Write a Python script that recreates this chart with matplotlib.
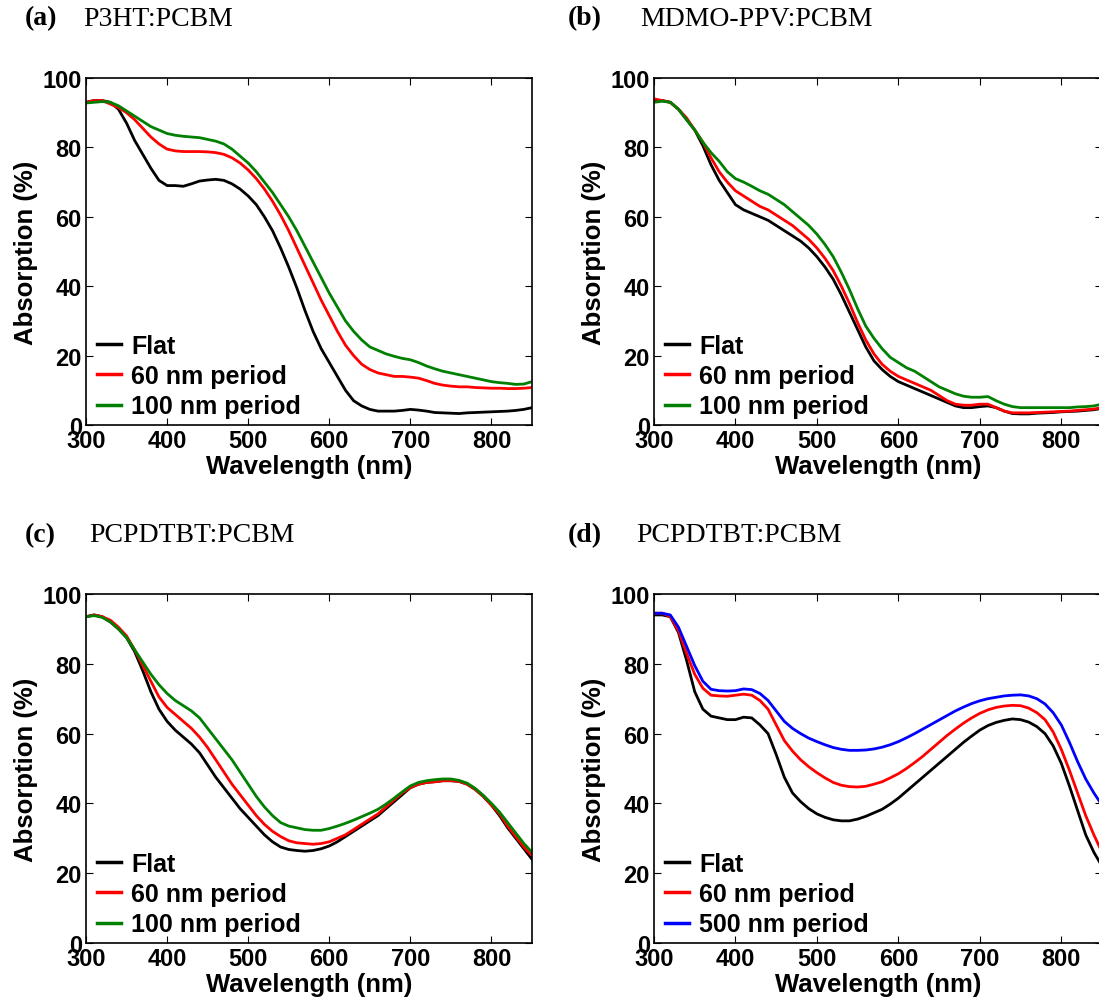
import numpy as np
import matplotlib
matplotlib.use("Agg")
import matplotlib.pyplot as plt

plt.rcParams['font.family'] = ['Liberation Sans', 'DejaVu Sans']

# wavelength grid (nm) shared by all spectra
wavelength = np.arange(300, 851, 10)

# (a) P3HT:PCBM
a_flat = [93, 93.5, 93.5, 93, 91, 87, 82, 78, 74, 70.5, 69, 69, 68.8, 69.5, 70.3, 70.6, 70.8, 70.5, 69.5, 68,
          66, 63.5, 60, 56, 51, 45.5, 39.5, 33, 27, 22, 18, 14, 10, 7, 5.5, 4.5, 4, 4, 4, 4.2,
          4.5, 4.3, 4, 3.6, 3.5, 3.4, 3.3, 3.5, 3.6, 3.7, 3.8, 3.9, 4, 4.2, 4.5, 5]
a_60 = [93, 93.5, 93.5, 92.5, 91.5, 90, 88, 85.5, 83, 81, 79.5, 79, 78.8, 78.8, 78.8, 78.7, 78.5, 78, 77, 75.5,
        73.5, 71, 68, 64.5, 60.5, 56, 51, 46, 41, 36, 31.5, 27, 23, 20, 17.5, 16, 15, 14.5, 14, 14,
        13.8, 13.5, 12.8, 12, 11.5, 11.2, 11, 11, 10.8, 10.7, 10.6, 10.6, 10.5, 10.5, 10.6, 10.8]
a_100 = [92.8, 93, 93.2, 93, 92, 90.5, 89, 87.5, 86, 85, 84, 83.5, 83.2, 83, 82.8, 82.3, 81.8, 81, 79.5, 77.5,
         75.5, 73, 70, 67, 63.5, 60, 56, 51.5, 47, 42.5, 38, 34, 30, 27, 24.5, 22.5, 21.5, 20.5, 19.8, 19.2,
         18.8, 18, 17, 16.2, 15.5, 15, 14.5, 14, 13.5, 13, 12.5, 12.2, 12, 11.7, 11.8, 12.5]

# (b) MDMO-PPV:PCBM
b_flat = [93.5, 93.5, 93, 91, 88, 85, 80.5, 75, 70.5, 67, 63.5, 62, 61, 60, 59, 57.5, 56, 54.5, 53, 51,
          48.5, 45.5, 42, 37.5, 32.5, 27.5, 22.5, 18.5, 16, 14, 12.5, 11.5, 10.5, 9.5, 8.5, 7.5, 6.5, 5.5, 5, 5,
          5.3, 5.5, 5, 4, 3.3, 3.2, 3.2, 3.4, 3.5, 3.6, 3.8, 3.9, 4, 4.2, 4.4, 4.8]
b_60 = [94, 93.5, 93, 91, 88.5, 85, 81.5, 77, 73, 70, 67.5, 66, 64.5, 63, 62, 60.5, 59, 57.5, 55.5, 53.5,
        51, 48, 44.5, 40, 35, 29.5, 24.5, 20.5, 17.5, 15.5, 14, 13, 12, 11, 10, 8.5, 7, 6, 5.7, 5.7,
        6, 6, 5, 4, 3.5, 3.5, 3.5, 3.6, 3.7, 3.8, 3.9, 4, 4.2, 4.4, 4.6, 5]
b_100 = [93, 93.3, 93, 91, 88, 85, 81.5, 78.5, 76, 73, 71, 70, 68.8, 67.5, 66.5, 65, 63.5, 61.5, 59.5, 57.5,
         55, 52, 48.5, 44, 39, 33.5, 28.5, 25, 22, 19.5, 18, 16.5, 15.5, 14, 12.5, 11, 10, 9, 8.3, 8,
         8, 8.2, 7, 6, 5.3, 5, 5, 5, 5, 5, 5, 5, 5.2, 5.3, 5.5, 6]

# (c) PCPDTBT:PCBM
c_flat = [93.5, 94, 93.5, 92, 90, 87.5, 83.5, 78, 72, 67, 63.5, 61, 59, 57, 54.5, 51, 47.5, 44.5, 41.5, 38.5,
          36, 33.5, 31, 29, 27.5, 26.8, 26.5, 26.3, 26.5, 27, 27.8, 29, 30.5, 32, 33.5, 35, 36.5, 38.5, 40.5, 42.5,
          44.5, 45.5, 46, 46.2, 46.5, 46.5, 46.3, 45.5, 44, 42, 39.5, 36.5, 33, 30, 27, 24]
c_60 = [93.5, 94, 93.5, 92.5, 90.5, 88, 84, 79.5, 75, 70.5, 67.5, 65.5, 63.5, 61.5, 59, 56, 52.5, 49, 45.5, 42.5,
        39.5, 36.5, 34, 32, 30.5, 29.3, 28.7, 28.5, 28.3, 28.5, 29, 30, 31, 32.5, 34, 35.5, 37, 39, 41, 43,
        44.5, 45.5, 46, 46.2, 46.5, 46.5, 46.3, 45.5, 44, 42, 39.5, 37, 33.5, 30.5, 27.5, 25]
c_100 = [93.5, 93.8, 93.3, 92, 90, 87.5, 84, 80.5, 77, 74, 71.5, 69.5, 68, 66.5, 64.5, 61.5, 58.5, 55.5, 52.5, 49,
         45.5, 42, 39, 36.5, 34.5, 33.5, 33, 32.5, 32.3, 32.3, 32.8, 33.5, 34.3, 35.2, 36.2, 37.2, 38.3, 39.8, 41.5, 43.3,
         45, 46, 46.5, 46.8, 47, 47, 46.6, 45.8, 44.3, 42.3, 40, 37.5, 34.5, 31.5, 28.5, 26]

# (d) PCPDTBT:PCBM
d_flat = [94, 94, 93.5, 89, 81, 72, 67, 65, 64.5, 64, 64, 64.7, 64.5, 62.5, 60, 54, 47.5, 43, 40.5, 38.5,
          37, 36, 35.3, 35, 35, 35.5, 36.3, 37.3, 38.3, 39.8, 41.5, 43.5, 45.5, 47.5, 49.5, 51.5, 53.5, 55.5, 57.5, 59.3,
          61, 62.3, 63.2, 63.8, 64.2, 64, 63.3, 62, 60, 56.5, 51.5, 45, 38, 31, 26, 22]
d_60 = [94.5, 94.5, 93.5, 89.5, 83, 77, 73, 71, 70.8, 70.7, 71, 71.3, 71, 69.5, 67, 62.5, 58, 55, 52.5, 50.5,
        48.8, 47.3, 46, 45.2, 44.8, 44.7, 44.9, 45.5, 46.2, 47.3, 48.5, 50, 51.7, 53.5, 55.5, 57.5, 59.5, 61.3, 63, 64.5,
        65.8, 66.8, 67.5, 67.9, 68.1, 68, 67.3, 66, 64, 60.5, 55.5, 49.5, 43, 36.5, 31, 26]
d_500 = [94.5, 94.5, 94, 90.5, 85, 79.5, 75, 72.7, 72.3, 72.2, 72.3, 72.8, 72.6, 71.5, 69.5, 66.5, 63.5, 61.5, 60, 58.7,
         57.7, 56.8, 56, 55.5, 55.2, 55.2, 55.3, 55.6, 56.1, 56.8, 57.7, 58.8, 60, 61.3, 62.6, 63.9, 65.2, 66.5, 67.6, 68.6,
         69.4, 70, 70.4, 70.8, 71, 71.1, 70.8, 70, 68.5, 66, 62.5, 57.5, 52, 47, 43, 39.5]

panels = [
    ("(a)", "P3HT:PCBM", [a_flat, a_60, a_100], ["Flat", "60 nm period", "100 nm period"], ["black", "red", "green"]),
    ("(b)", "MDMO-PPV:PCBM", [b_flat, b_60, b_100], ["Flat", "60 nm period", "100 nm period"], ["black", "red", "green"]),
    ("(c)", "PCPDTBT:PCBM", [c_flat, c_60, c_100], ["Flat", "60 nm period", "100 nm period"], ["black", "red", "green"]),
    ("(d)", "PCPDTBT:PCBM", [d_flat, d_60, d_500], ["Flat", "60 nm period", "500 nm period"], ["black", "red", "blue"]),
]

W, H = 1099, 1003
fig = plt.figure(figsize=(W / 100, H / 100), dpi=100)

# axes boxes in pixels: left, top, right, bottom
boxes = [(86, 79, 532, 426), (654, 79, 1102, 426), (86, 595, 532, 944), (654, 595, 1102, 944)]
# title positions in pixels: tag x, name x, y
title_pos = [(25, 83, 19), (568, 640, 19), (25, 89, 536), (568, 636, 536)]

for (tag, name, series, labels, colors), (l, t, r, b), (tx, nx, ty) in zip(panels, boxes, title_pos):
    ax = fig.add_axes([l / W, 1 - b / H, (r - l) / W, (b - t) / H])
    for y, lab, c in zip(series, labels, colors):
        ax.plot(wavelength, y, color=c, lw=2, label=lab)
    ax.set_xlim(300, 850)
    ax.set_ylim(0, 100)
    ax.set_xticks(range(300, 851, 100))
    ax.set_yticks(range(0, 101, 20))
    ax.tick_params(direction="in", top=True, right=True, length=5, width=0.8,
                   labelsize=17, pad=3)
    for lab in ax.get_xticklabels() + ax.get_yticklabels():
        lab.set_fontweight("bold")
    for s in ax.spines.values():
        s.set_linewidth(1.2)
    ax.set_xlabel("Wavelength (nm)", fontsize=18.5, fontweight="bold", labelpad=1)
    ax.set_ylabel("Absorption (%)", fontsize=18.5, fontweight="bold", labelpad=3)
    leg = ax.legend(loc="lower left", bbox_to_anchor=(0.0, -0.013), frameon=False,
                    handlelength=0.95, handletextpad=0.4,
                    labelspacing=0.25, borderaxespad=0.25, borderpad=0.2,
                    prop={"size": 18, "weight": "bold"})
    for h in leg.get_lines():
        h.set_linewidth(2.5)
    fig.text(tx / W, 1 - ty / H, tag, fontsize=20, fontweight="bold",
             family="Liberation Serif", va="center", ha="left")
    fig.text(nx / W, 1 - ty / H, name, fontsize=20,
             family="Liberation Serif", va="center", ha="left")

fig.savefig("out.png", dpi=100)
